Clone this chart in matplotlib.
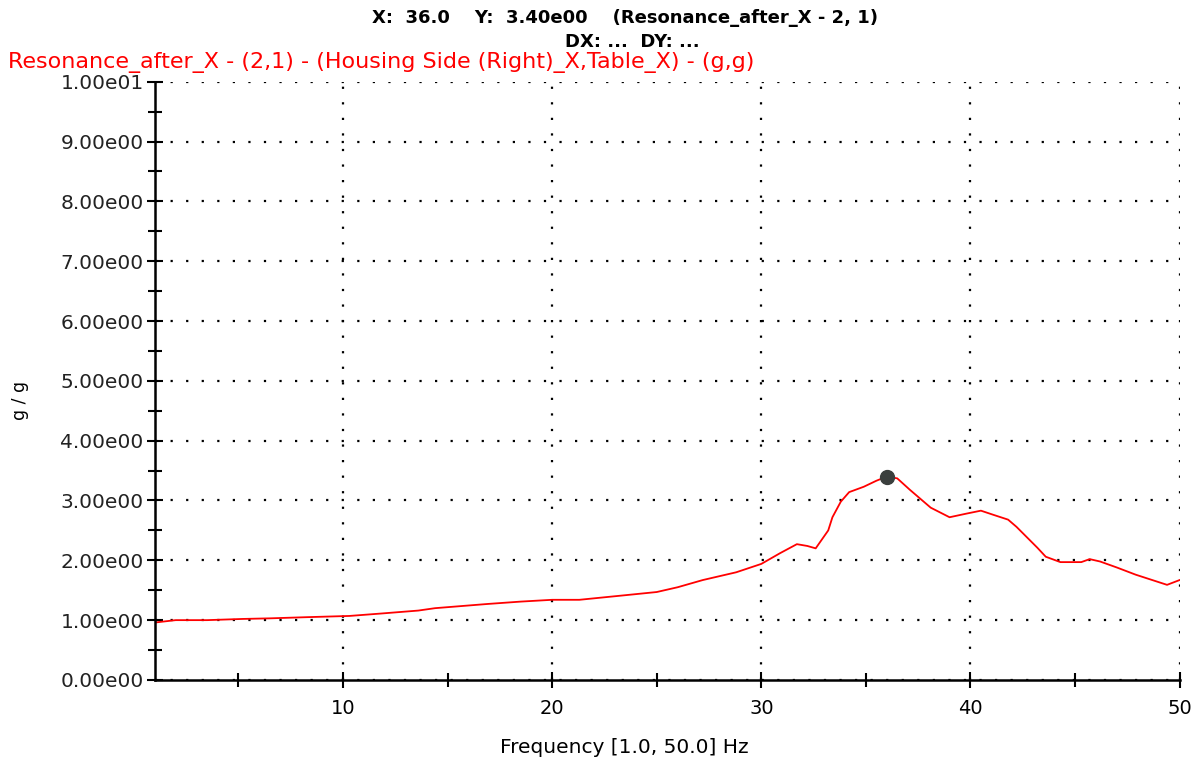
import matplotlib
matplotlib.use("Agg")
import matplotlib.pyplot as plt
import matplotlib.ticker as mtick

plt.rcParams["font.family"] = ["DejaVu Sans"]

# transmissibility (frequency in Hz, ratio g/g)
freq = [1.0, 2.0, 3.5, 5.2, 6.5, 8.3, 10.3, 11.8, 13.6, 14.4, 16.9, 18.5,
        20.0, 21.3, 23.3, 25.0, 26.0, 27.2, 28.8, 30.0, 30.9, 31.7, 32.2,
        32.6, 32.8, 33.2, 33.4, 33.8, 34.2, 34.9, 35.5, 36.0, 36.5, 37.1,
        38.1, 39.0, 39.8, 40.5, 41.1, 41.8, 42.2, 43.2, 43.6, 44.3, 45.3,
        45.7, 46.2, 47.0, 47.9, 49.4, 50.0]
ratio = [0.96, 1.0, 1.0, 1.02, 1.03, 1.05, 1.07, 1.11, 1.16, 1.2, 1.27, 1.31,
         1.34, 1.34, 1.41, 1.47, 1.55, 1.67, 1.8, 1.94, 2.12, 2.27, 2.24,
         2.2, 2.3, 2.5, 2.72, 2.98, 3.14, 3.23, 3.33, 3.40, 3.37, 3.18,
         2.88, 2.72, 2.78, 2.83, 2.76, 2.68, 2.56, 2.21, 2.06, 1.97, 1.97,
         2.02, 1.98, 1.88, 1.76, 1.59, 1.67]
cursor_x = 36.0
cursor_y = 3.40

fig = plt.figure(figsize=(12, 7.64), dpi=100)
ax = fig.add_axes([0.129, 0.110, 0.854, 0.783])

ax.plot(freq, ratio, color="#ff0000", lw=1.3)
ax.plot([cursor_x], [cursor_y], "o", color="#3a3f3d", ms=10)

ax.set_xlim(1, 50)
ax.set_ylim(0, 10)
ax.xaxis.set_major_locator(mtick.MultipleLocator(10))
ax.xaxis.set_minor_locator(mtick.MultipleLocator(5))
ax.yaxis.set_major_locator(mtick.MultipleLocator(1))
ax.yaxis.set_minor_locator(mtick.MultipleLocator(0.5))
ax.yaxis.set_major_formatter(mtick.FuncFormatter(
    lambda v, p: "1.00e01" if v >= 10 else "%.2fe00" % v))

ax.grid(True, which="major", color="black", linestyle=(0, (1, 6)), lw=1.6)
for s in ["top", "right"]:
    ax.spines[s].set_visible(False)
ax.spines["left"].set_linewidth(1.8)
ax.spines["bottom"].set_linewidth(1.8)
ax.tick_params(which="both", direction="inout", width=1.5, colors="black")
ax.tick_params(axis="y", which="major", length=12, labelsize=14.5, pad=2)
ax.tick_params(axis="x", which="major", length=12, labelsize=14, pad=8)
ax.tick_params(which="minor", length=10)
for t in ax.get_yticklabels():
    t.set_color("#222222")

ax.set_xlabel("Frequency [1.0, 50.0] Hz", fontsize=14.5)
ax.xaxis.set_label_coords(0.458, -0.097)
ax.set_ylabel("g / g", fontsize=12.5)
ax.yaxis.set_label_coords(-0.123, 0.468)

fig.text(0.521, 0.976, "X:  36.0    Y:  3.40e00    (Resonance_after_X - 2, 1)",
         ha="center", va="center", fontsize=13, fontweight="bold")
fig.text(0.527, 0.945, "DX: ...  DY: ...",
         ha="center", va="center", fontsize=13, fontweight="bold")
fig.text(0.007, 0.918,
         "Resonance_after_X - (2,1) - (Housing Side (Right)_X,Table_X) - (g,g)",
         ha="left", va="center", fontsize=16, color="#ff0000")

fig.savefig("out.png", dpi=100, facecolor="white")
